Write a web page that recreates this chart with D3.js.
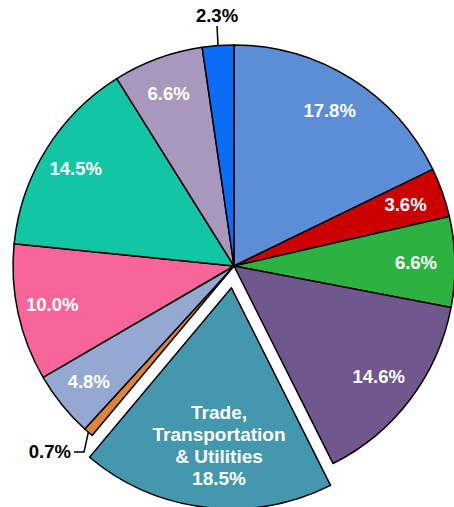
<!DOCTYPE html>
<html>
<head>
<script src="https://d3js.org/d3.v7.min.js"></script>
<style>
  body { margin: 0; background: #fff; }
  text { font-family: "Liberation Sans", Arial, sans-serif; font-weight: bold; }
</style>
</head>
<body>
<script>
var labels = ["a", "b", "c", "d", "Trade, Transportation & Utilities", "f", "g", "h", "i", "j", "k"];
var values = [17.8, 3.6, 6.6, 14.6, 18.5, 0.7, 4.8, 10.0, 14.5, 6.6, 2.3];
var colors = ["#5b8ed6", "#cc0000", "#2db141", "#70578e", "#4398ad", "#e0843a",
              "#95a8d2", "#f7659a", "#12c5a3", "#a898bd", "#0b6cf5"];
var exploded = 4;

var width = 454, height = 507;
var cx = 234, cy = 266, r = 221;
var fs = 18.5;

var svg = d3.select("body").append("svg")
    .attr("width", width)
    .attr("height", height);

var g = svg.append("g").attr("transform", "translate(" + cx + "," + cy + ")");

var pie = d3.pie().sort(null).value(function (d) { return d; });
var arcs = pie(values);
var arc = d3.arc().innerRadius(0).outerRadius(r);

function mid(d) { return (d.startAngle + d.endAngle) / 2; }
function offset(d, i) {
    if (i !== exploded) return [0, 0];
    var a = mid(d);
    return [22 * Math.sin(a), -22 * Math.cos(a)];
}

g.selectAll("path")
    .data(arcs)
    .enter().append("path")
    .attr("d", arc)
    .attr("fill", function (d, i) { return colors[i]; })
    .attr("stroke", "#000")
    .attr("stroke-width", 1.5)
    .attr("stroke-linejoin", "round")
    .attr("transform", function (d, i) {
        var o = offset(d, i);
        return "translate(" + o[0] + "," + o[1] + ")";
    });

// inside labels
var labelR = 184;
arcs.forEach(function (d, i) {
    if (i === exploded || values[i] < 3) return;
    var a = mid(d);
    g.append("text")
        .attr("x", labelR * Math.sin(a) - 2)
        .attr("y", -labelR * Math.cos(a))
        .attr("text-anchor", "middle")
        .attr("dy", "0.35em")
        .attr("fill", "#fff")
        .attr("font-size", fs)
        .text(values[i].toFixed(1) + "%");
});

// exploded slice label
var ex = arcs[exploded];
var exLines = ["Trade,", "Transportation", "& Utilities", values[exploded].toFixed(1) + "%"];
var exA = mid(ex), exR = 155;
var exT = g.append("text")
    .attr("text-anchor", "middle")
    .attr("fill", "#fff")
    .attr("font-size", 19);
exLines.forEach(function (s, k) {
    exT.append("tspan")
        .attr("x", exR * Math.sin(exA) + 3)
        .attr("y", -exR * Math.cos(exA) + (k - 1.5) * 22 + 32)
        .text(s);
});

// outside labels with leaders
function outside(i, pts, tx, ty, anchor) {
    var d = arcs[i];
    var a = mid(d);
    var p0 = [r * Math.sin(a), -r * Math.cos(a)];
    var line = [p0].concat(pts);
    g.append("path")
        .attr("d", d3.line()(line))
        .attr("fill", "none")
        .attr("stroke", "#000")
        .attr("stroke-width", 1.5);
    g.append("text")
        .attr("x", tx)
        .attr("y", ty)
        .attr("dy", "0.35em")
        .attr("text-anchor", anchor)
        .attr("fill", "#000")
        .attr("font-size", fs)
        .text(values[i].toFixed(1) + "%");
}
outside(10, [[-17, -240]], -17, -250, "middle");
outside(5, [[-150, 186], [-160, 186]], -163, 186, "end");
</script>
</body>
</html>
